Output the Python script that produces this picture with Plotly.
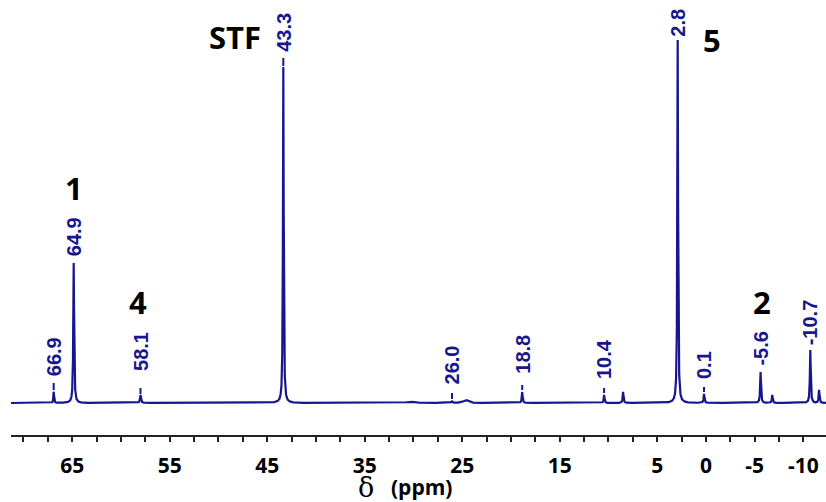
import numpy as np
import plotly.graph_objects as go

# ---- data ----
peak_ppm = [66.9, 64.85, 58.0, 43.35, 30.3, 26.05, 24.6, 18.85, 10.45, 8.5, 2.9, 0.2, -5.6, -6.8, -10.7, -11.6]
peak_height = [11, 140, 8, 336, 1.5, 2, 3, 11, 8, 11, 363, 9, 31, 8, 53, 13]
peak_hwhm = [0.04, 0.05, 0.06, 0.045, 0.4, 0.05, 0.3, 0.05, 0.05, 0.05, 0.045, 0.05, 0.05, 0.05, 0.05, 0.05]

label_text = ["66.9", "64.9", "58.1", "43.3", "26.0", "18.8", "10.4", "2.8", "0.1", "-5.6", "-10.7"]
label_peak_index = [0, 1, 2, 3, 5, 7, 8, 10, 11, 12, 14]

assign_text = ["1", "4", "STF", "5", "2"]

tick_vals = [65, 55, 45, 35, 25, 15, 5, 0, -5, -10]
tick_text = ["65", "55", "45", "35", "25", "15", "5", "0", "-5", "-10"]

# ---- styling / layout helpers (not data) ----
label_gap = [15, 6, 23, 14, 16, 17, 15, 2, 14, 5, 4]          # label base above peak top
leader_span = [(2, 9), None, (1, 7), (1, 9), (2, 8), (2, 7), (2, 7), None, (2, 7), None, None]
assign_pos = [(64.8, 215), (58.3, 101), (48.3, 366), (-0.6, 363), (-5.75, 101)]

NAVY = "#16168e"
X_LEFT, X_RIGHT = 71.28, -12.31

# spectrum as sum of Lorentzian lines from the peak table
ppm = np.linspace(X_LEFT, X_RIGHT, 24000)
intensity = np.zeros_like(ppm)
for c, h, w in zip(peak_ppm, peak_height, peak_hwhm):
    intensity += h * w**2 / ((ppm - c) ** 2 + w**2)

fig = go.Figure()
fig.add_trace(go.Scatter(x=ppm, y=intensity, mode="lines",
                         line=dict(color=NAVY, width=2.2), hoverinfo="skip",
                         showlegend=False))

# leader dashes
lx, ly = [], []
for i, span in zip(label_peak_index, leader_span):
    if span is None:
        continue
    top = peak_height[i]
    lx += [peak_ppm[i], peak_ppm[i], None]
    ly += [top + span[0], top + span[1], None]
fig.add_trace(go.Scatter(x=lx, y=ly, mode="lines", line=dict(color=NAVY, width=2),
                         hoverinfo="skip", showlegend=False))

annotations = []
for t, i, g in zip(label_text, label_peak_index, label_gap):
    annotations.append(dict(x=peak_ppm[i], y=peak_height[i] + g, xref="x", yref="y",
                            text=t, textangle=-90, showarrow=False,
                            xanchor="center", yanchor="bottom", borderpad=0,
                            font=dict(family="Liberation Sans", size=20, color=NAVY, weight="bold")))
for t, (px, py) in zip(assign_text, assign_pos):
    annotations.append(dict(x=px, y=py, xref="x", yref="y", text=t, showarrow=False,
                            xanchor="center", yanchor="middle",
                            font=dict(family="Open Sans", size=31, color="black", weight="bold")))
# axis title
annotations.append(dict(x=(366 - 11) / 815, y=(435 - 487) / 425, xref="paper", yref="paper",
                        text="δ", showarrow=False, xanchor="center", yanchor="middle",
                        borderpad=0,
                        font=dict(family="DejaVu Serif", size=27, color="black")))
annotations.append(dict(x=(421 - 11) / 815, y=(435 - 487) / 425, xref="paper", yref="paper",
                        text="(ppm)", showarrow=False, xanchor="center", yanchor="middle",
                        font=dict(family="Open Sans", size=21, color="black", weight="bold")))

fig.update_layout(
    width=826, height=502,
    margin=dict(l=11, r=0, t=10, b=67),
    paper_bgcolor="white", plot_bgcolor="white",
    annotations=annotations,
    xaxis=dict(range=[X_LEFT, X_RIGHT], showgrid=False, zeroline=False,
               showline=True, linecolor="#222222", linewidth=2,
               tickmode="array", tickvals=tick_vals, ticktext=tick_text,
               ticks="outside", ticklen=5, tickwidth=1.5, tickcolor="#222222",
               ticklabelstandoff=6,
               tickfont=dict(family="Open Sans", size=21, color="black", weight="bold"),
               minor=dict(tickmode="linear", tick0=0, dtick=2.5, ticks="outside",
                          ticklen=5, tickwidth=1.5, tickcolor="#222222", showgrid=False)),
    yaxis=dict(range=[-32, 393], visible=False, showgrid=False, zeroline=False),
)

fig.write_html("out.html")
